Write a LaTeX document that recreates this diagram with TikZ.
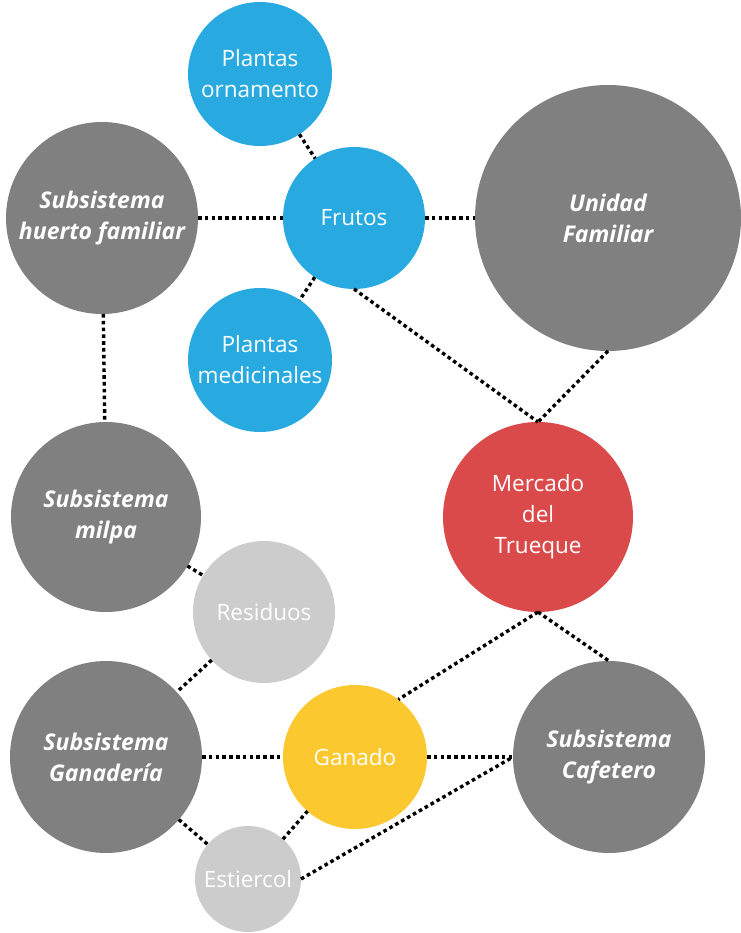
\documentclass[tikz,border=0pt]{standalone}
\usepackage{fontspec}
\setmainfont{Open Sans}
\definecolor{leafblue}{RGB}{40,170,225}
\definecolor{sysgray}{RGB}{128,128,128}
\definecolor{marketred}{RGB}{219,74,75}
\definecolor{cattleyellow}{RGB}{252,200,48}
\definecolor{wastegray}{RGB}{204,204,204}
\begin{document}
\begin{tikzpicture}[x=1pt, y=-1pt,
    bubble/.style={circle, inner sep=0pt, outer sep=0pt, align=center, text=white,
        font=\fontsize{22.5}{31}\selectfont},
    subsys/.style={bubble, fill=sysgray, font=\fontsize{23}{31}\selectfont\bfseries\itshape},
    product/.style={bubble, fill=leafblue},
    waste/.style={bubble, fill=wastegray},
    link/.style={black, line width=3.4pt, dash pattern=on 3.6pt off 3.2pt}]
    \useasboundingbox (0,0) rectangle (740,933);

    \node[product, minimum size=144pt] (ornamento) at (260,74) {Plantas\\ornamento};
    \node[product, minimum size=142pt] (frutos) at (354,218) {Frutos};
    \node[product, minimum size=144pt] (medicinales) at (260,360) {Plantas\\medicinales};
    \node[subsys, minimum size=192pt] (huerto) at (102,218) {Subsistema\\huerto familiar};
    \node[subsys, minimum size=266pt] (unidad) at (608,218) {Unidad\\Familiar};
    \node[subsys, minimum size=190pt] (milpa) at (106,517) {Subsistema\\milpa};
    \node[bubble, fill=marketred, minimum size=190pt] (mercado) at (538,517) {Mercado\\del\\Trueque};
    \node[waste, minimum size=142pt] (residuos) at (264,612) {Residuos};
    \node[subsys, minimum size=192pt] (ganaderia) at (106,757) {Subsistema\\Ganadería};
    \node[bubble, fill=cattleyellow, minimum size=144pt] (ganado) at (355,757) {Ganado};
    \node[subsys, minimum size=192pt] (cafetero) at (609,757) {Subsistema\\Cafetero};
    \node[waste, minimum size=106pt] (estiercol) at (248,879) {Estiercol};

    \draw[link] (ornamento) -- (frutos);
    \draw[link] (huerto) -- (frutos);
    \draw[link] (frutos) -- (unidad);
    \draw[link] (frutos) -- (medicinales);
    \draw[link] (frutos.south) -- (mercado.north);
    \draw[link] (unidad.south) -- (mercado.north);
    \draw[link] (huerto) -- (milpa);
    \draw[link] (milpa) -- (residuos);
    \draw[link] (residuos) -- (ganaderia);
    \draw[link] (mercado.south) -- (cafetero.north);
    \draw[link] (mercado.south) -- (ganado.53);
    \draw[link] (ganaderia) -- (ganado);
    \draw[link] (ganado) -- (cafetero.west);
    \draw[link] (ganaderia) -- (estiercol);
    \draw[link] (estiercol) -- (ganado);
    \draw[link] (estiercol.east) -- (cafetero.west);
\end{tikzpicture}
\end{document}
